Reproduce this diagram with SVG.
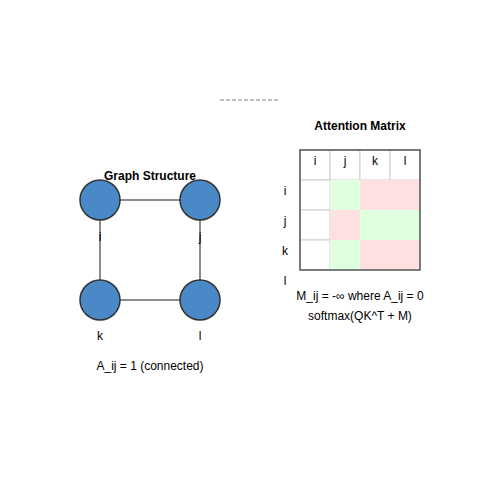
<svg xmlns="http://www.w3.org/2000/svg" width="500" height="500" viewBox="0 0 500 500">
<style>
text{font-family:"Liberation Sans",Arial,sans-serif;font-size:12px;fill:#000}
.title{font-weight:bold}
.node{fill:#4a89c8;stroke:#333;stroke-width:1.5}
.edge{stroke:#666;stroke-width:1.5}
.cell{fill:#fff;stroke:#ccc;stroke-width:1}
.g{fill:#e0ffe0}
.r{fill:#ffe0e0}
</style>
<rect width="500" height="500" fill="#fff"/>
<line x1="220" y1="100" x2="280" y2="100" stroke="#aaa" stroke-width="1.5" stroke-dasharray="4,2"/>
<g id="connectors">
<line class="edge" x1="100" y1="200" x2="200" y2="200"/>
<line class="edge" x1="100" y1="200" x2="100" y2="300"/>
<line class="edge" x1="200" y1="200" x2="200" y2="300"/>
<line class="edge" x1="100" y1="300" x2="200" y2="300"/>
</g>
<g id="node-i"><circle class="node" cx="100" cy="200" r="20"/><text x="100" y="241" text-anchor="middle">i</text></g>
<g id="node-j"><circle class="node" cx="200" cy="200" r="20"/><text x="200" y="241" text-anchor="middle">j</text></g>
<g id="node-k"><circle class="node" cx="100" cy="300" r="20"/><text x="100" y="340" text-anchor="middle">k</text></g>
<g id="node-l"><circle class="node" cx="200" cy="300" r="20"/><text x="200" y="340" text-anchor="middle">l</text></g>
<text class="title" x="150" y="180" text-anchor="middle">Graph Structure</text>
<text x="150" y="370" text-anchor="middle">A_ij = 1 (connected)</text>
<g id="matrix">
<text class="title" x="360" y="130" text-anchor="middle">Attention Matrix</text>
<rect class="cell" x="300" y="150" width="30" height="30"/>
<rect class="cell" x="330" y="150" width="30" height="30"/>
<rect class="cell" x="360" y="150" width="30" height="30"/>
<rect class="cell" x="390" y="150" width="30" height="30"/>
<rect class="cell" x="300" y="180" width="30" height="30"/>
<rect class="cell" x="300" y="210" width="30" height="30"/>
<rect class="cell" x="300" y="240" width="30" height="30"/>
<rect class="g" x="330" y="180" width="30" height="30"/>
<rect class="r" x="360" y="180" width="60" height="30"/>
<rect class="r" x="330" y="210" width="30" height="30"/>
<rect class="g" x="360" y="210" width="60" height="30"/>
<rect class="g" x="330" y="240" width="30" height="30"/>
<rect class="r" x="360" y="240" width="60" height="30"/>
<rect x="300" y="150" width="120" height="120" fill="none" stroke="#555" stroke-width="1.5"/>
<text x="315" y="165" text-anchor="middle">i</text>
<text x="345" y="165" text-anchor="middle">j</text>
<text x="375" y="165" text-anchor="middle">k</text>
<text x="405" y="165" text-anchor="middle">l</text>
<text x="285" y="195" text-anchor="middle">i</text>
<text x="285" y="225" text-anchor="middle">j</text>
<text x="285" y="255" text-anchor="middle">k</text>
<text x="285" y="285" text-anchor="middle">l</text>
<text x="360" y="300" text-anchor="middle">M_ij = -∞ where A_ij = 0</text>
<text x="360" y="320" text-anchor="middle">softmax(QK^T + M)</text>
</g>
</svg>
